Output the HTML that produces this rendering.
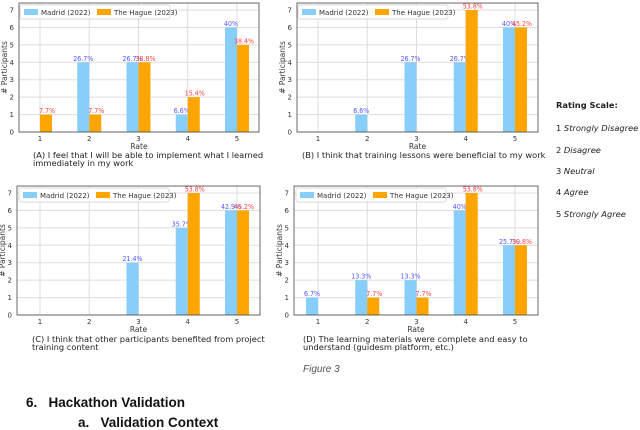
<!DOCTYPE html>
<html><head><meta charset="utf-8">
<style>
body{margin:0;background:#fff;width:640px;height:429px;overflow:hidden;position:relative;font-family:"DejaVu Sans","Liberation Sans",sans-serif}
svg{position:absolute;left:0;top:0}
.cap{position:absolute;font-size:8.3px;line-height:8px;color:#222;font-family:"DejaVu Sans",sans-serif}
.rs{position:absolute;left:556px;font-size:8.3px;color:#222;white-space:nowrap;font-family:"DejaVu Sans",sans-serif}
.rs i{font-style:italic}
.h{position:absolute;font-family:"Liberation Sans",sans-serif;font-weight:bold;color:#111;white-space:nowrap}
</style></head><body>
<svg id="chart" width="640" height="429"></svg>
<div class="cap" style="left:33px;top:151px">(A) I feel that I will be able to implement what I learned<br>immediately in my work</div>
<div class="cap" style="left:302px;top:151px">(B) I think that training lessons were beneficial to my work</div>
<div class="cap" style="left:32px;top:335px">(C) I think that other participants benefited from project<br>training content</div>
<div class="cap" style="left:303px;top:335px">(D) The learning materials were complete and easy to<br>understand (guidesm platform, etc.)</div>
<div style="position:absolute;left:303px;top:364px;font-size:10px;font-style:italic;color:#555;font-family:'Liberation Sans',sans-serif">Figure 3</div>
<div class="rs" style="top:100px;font-weight:bold">Rating Scale:</div>
<div class="rs" style="top:123px">1 <i>Strongly Disagree</i></div>
<div class="rs" style="top:145px">2 <i>Disagree</i></div>
<div class="rs" style="top:166px">3 <i>Neutral</i></div>
<div class="rs" style="top:187px">4 <i>Agree</i></div>
<div class="rs" style="top:209px">5 <i>Strongly Agree</i></div>
<div class="h" style="left:26px;top:395px;font-size:13.5px">6.&nbsp;&nbsp;&nbsp;Hackathon Validation</div>
<div class="h" style="left:78px;top:415px;font-size:13.5px">a.&nbsp;&nbsp;&nbsp;Validation Context</div>
<script>
const categories=[1,2,3,4,5];
const yTicks=[0,1,2,3,4,5,6,7];
const madridA=[null,4,4,1,6];
const hagueA=[1,1,4,2,5];
const madridPctA=["","26.7%","26.7%","6.6%","40%"];
const haguePctA=["7.7%","7.7%","30.8%","15.4%","38.4%"];
const madridB=[null,1,4,4,6];
const hagueB=[null,null,null,7,6];
const madridPctB=["","6.6%","26.7%","26.7%","40%"];
const haguePctB=["","","","53.8%","45.2%"];
const madridC=[null,null,3,5,6];
const hagueC=[null,null,null,7,6];
const madridPctC=["","","21.4%","35.7%","42.9%"];
const haguePctC=["","","","53.8%","45.2%"];
const madridD=[1,2,2,6,4];
const hagueD=[null,1,1,7,4];
const madridPctD=["6.7%","13.3%","13.3%","40%","25.7%"];
const haguePctD=["","7.7%","7.7%","53.8%","30.8%"];

const svg=document.getElementById('chart');
const NS='http://www.w3.org/2000/svg';
function el(tag,attrs,parent){const e=document.createElementNS(NS,tag);for(const k in attrs)e.setAttribute(k,attrs[k]);(parent||svg).appendChild(e);return e;}
function txt(s,attrs,parent){const e=el('text',attrs,parent);e.textContent=s;return e;}
const LF='"DejaVu Sans Condensed","Liberation Sans Narrow","Liberation Sans",sans-serif';

function drawChart(id,g,m,h,mp,hp){
  const grp=el('g',{});
  
  
  const unit=17.43, step=49.25, bw=12;
  const y=v=>g.y0-v*unit;
  const x=c=>g.x1+(c-1)*step;
  const top=y(7.4);
  yTicks.forEach(t=>{
    const l=el('line',{x1:g.left,x2:g.right,y1:y(t),y2:y(t),stroke:'#ddd','stroke-width':1},grp);
    
    
    const tl=txt(String(t),{x:g.left-5,y:y(t)+2.5,'font-size':7,'text-anchor':'end',fill:'#333'},grp);
    
    
  });
  categories.forEach(c=>{
    el('line',{x1:x(c),x2:x(c),y1:top,y2:g.y0,stroke:'#ddd','stroke-width':1},grp);
    const tl=txt(String(c),{x:x(c),y:g.y0+9,'font-size':7,'text-anchor':'middle',fill:'#333'},grp);
    
    
  });
  categories.forEach((c,i)=>{
    if(m[i]!=null){
      const r=el('rect',{x:x(c)-bw,y:y(m[i]),width:bw,height:m[i]*unit,fill:'#87CEFA'},grp);
      
      
      const t=txt(mp[i],{x:x(c)-bw/2,y:y(m[i])-1.5,'font-size':7,'font-family':LF,'text-anchor':'middle',fill:'#5555ff'},grp);
      
      
    }
    if(h[i]!=null){
      const r=el('rect',{x:x(c),y:y(h[i]),width:bw,height:h[i]*unit,fill:'#FFA500'},grp);
      
      
      const t=txt(hp[i],{x:x(c)+bw/2+1,y:y(h[i])-1.5,'font-size':7,'font-family':LF,'text-anchor':'middle',fill:'#ff4444'},grp);
      
      
    }
  });
  el('rect',{x:g.left,y:top,width:g.right-g.left,height:g.y0-top,fill:'none',stroke:'#444','stroke-width':0.8},grp);
  const xt=txt('Rate',{x:(g.left+g.right)/2,y:g.y0+17,'font-size':7.5,'text-anchor':'middle',fill:'#333'},grp);
  
  
  const yt=txt('# Participants',{x:0,y:0,'font-size':7.5,'text-anchor':'middle',fill:'#333',transform:`translate(${g.left-12},${(top+g.y0)/2}) rotate(-90)`},grp);
  
  
  const lx=g.left+g.legdx, ly=top+2;
  const lg=el('g',{},grp);
  
  
  el('rect',{x:lx,y:ly,width:150,height:14,fill:'#fff',stroke:'#ccc','stroke-width':0.7,rx:2},lg);
  el('rect',{x:lx+4,y:ly+4,width:14,height:6,fill:'#87CEFA'},lg);
  txt('Madrid (2022)',{x:lx+21,y:ly+10,'font-size':7,fill:'#333'},lg);
  el('rect',{x:lx+77,y:ly+4,width:14,height:6,fill:'#FFA500'},lg);
  txt('The Hague (2023)',{x:lx+94,y:ly+10,'font-size':7,fill:'#333'},lg);
}
drawChart('a',{left:19,right:259,y0:132,x1:40,legdx:1},madridA,hagueA,madridPctA,haguePctA);
drawChart('b',{left:297,right:538,y0:132,x1:318,legdx:1},madridB,hagueB,madridPctB,haguePctB);
drawChart('c',{left:17,right:260,y0:315,x1:40,legdx:2},madridC,hagueC,madridPctC,haguePctC);
drawChart('d',{left:294,right:538,y0:315,x1:318,legdx:2},madridD,hagueD,madridPctD,haguePctD);
</script>
</body></html>
